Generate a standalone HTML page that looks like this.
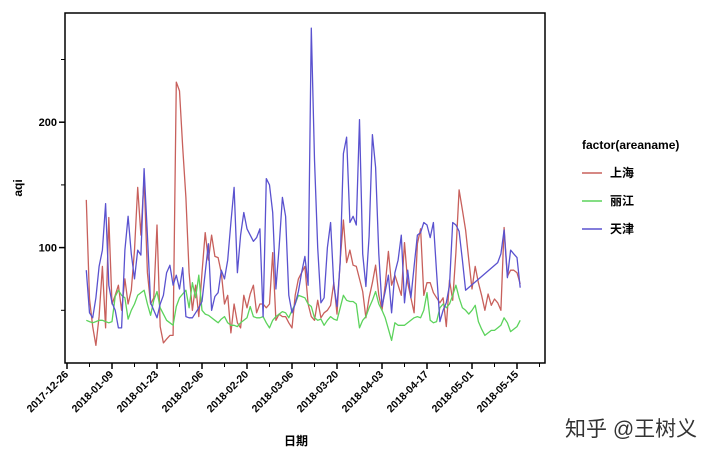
<!DOCTYPE html>
<html><head><meta charset="utf-8"><style>
body{margin:0;background:#fff;width:720px;height:459px;overflow:hidden;font-family:"Liberation Sans","Noto Sans CJK SC",sans-serif}
svg text{font-family:"Liberation Sans","Noto Sans CJK SC",sans-serif}
</style></head><body>
<svg id="chart" width="720" height="459" viewBox="0 0 720 459" xmlns="http://www.w3.org/2000/svg">
<rect x="65" y="13" width="480" height="350" fill="#fff" stroke="#000" stroke-width="1.5"/>
<g id="marks"></g>
<g id="axes"></g>
<text transform="translate(22,188) rotate(-90)" text-anchor="middle" font-size="12" font-weight="bold">aqi</text>
<text x="296" y="445" text-anchor="middle" font-size="12" font-weight="bold">日期</text>
<g>
<text x="582" y="149" font-size="12" font-weight="bold">factor(areaname)</text>
<line x1="582" x2="602" y1="173" y2="173" stroke="#c8605c" stroke-width="1.5"/>
<text x="610" y="177" font-size="12" font-weight="bold">上海</text>
<line x1="582" x2="602" y1="201" y2="201" stroke="#5cd35c" stroke-width="1.5"/>
<text x="610" y="205" font-size="12" font-weight="bold">丽江</text>
<line x1="582" x2="602" y1="229" y2="229" stroke="#5a52cf" stroke-width="1.5"/>
<text x="610" y="233" font-size="12" font-weight="bold">天津</text>
</g>
<text x="565" y="436" font-size="21" fill="#333">知乎 @王树义</text>
</svg>
<script>
const startDate = "2018-01-01";
const seriesNames = ["上海","丽江","天津"];
const shanghai = [138,59,37,22,45,85,36,124,55,62,70,50,75,55,66,98,148,110,156,80,55,60,118,37,24,27,30,30,232,225,180,140,80,50,
70,45,80,112,90,110,93,92,80,55,62,32,55,40,36,62,52,63,70,48,55,55,52,55,96,42,47,45,45,40,36,62,75,80,85,55,45,
42,58,44,48,50,54,72,47,90,122,88,98,86,85,75,65,44,60,72,86,62,50,70,97,70,78,70,62,104,72,60,48,103,115,62,72,72,64,60,56,60,37,74,58,96,146,130,114,90,67,85,72,62,50,63,54,59,56,50,116,77,82,82,80,71];
const lijiang = [42,41,40,41,42,42,41,40,41,61,66,62,60,43,50,55,62,64,66,55,46,58,65,52,47,42,40,38,53,60,63,66,52,72,60,
78,50,47,46,44,42,40,43,45,40,38,38,37,40,42,44,53,45,44,44,45,40,36,42,45,47,49,48,44,50,55,62,61,60,55,53,
44,42,43,38,42,45,43,42,52,62,58,57,57,55,36,42,45,52,58,65,55,50,44,35,26,40,38,38,38,40,42,44,45,44,50,64,42,40,41,52,55,52,55,62,70,60,52,50,47,50,54,41,35,30,32,34,34,36,38,44,40,33,35,37,42];
const tianjin = [82,48,44,60,85,98,135,70,56,50,36,36,98,125,95,75,98,94,163,110,56,50,44,55,62,80,86,70,78,67,84,45,
44,44,48,52,57,80,103,50,61,64,82,75,90,120,148,80,110,128,115,110,105,108,115,45,155,150,128,67,100,140,125,62,48,55,65,80,93,70,275,
170,100,56,60,100,120,70,53,88,175,188,120,125,118,202,95,69,109,190,164,95,53,65,78,48,80,90,110,56,82,60,85,110,112,120,118,
108,120,80,41,50,56,70,120,118,113,90,66,null,null,null,null,null,null,null,null,null,88,95,114,76,98,95,92,68];
const xTickLabels = ["2017-12-26","2018-01-09","2018-01-23","2018-02-06","2018-02-20","2018-03-06","2018-03-20","2018-04-03","2018-04-17","2018-05-01","2018-05-15"];
const yTickValues = [50,100,150,200,250];
const yTickLabels = ["","100","","200",""];

const NS="http://www.w3.org/2000/svg";
const DAY=86400000, origin=Date.UTC(2017,11,26);
function xScale(ms){return 67+(ms-origin)/DAY*(45/14);}
function yScale(v){return 373-v*1.254;}
function dayMs(i){const p=startDate.split("-");return Date.UTC(+p[0],+p[1]-1,+p[2])+i*DAY;}
function mk(tag,attrs,parent){const e=document.createElementNS(NS,tag);for(const k in attrs)e.setAttribute(k,attrs[k]);parent.appendChild(e);return e;}
const marks=document.getElementById("marks"), axes=document.getElementById("axes");
const data=[shanghai,lijiang,tianjin], colors=["#c8605c","#5cd35c","#5a52cf"], names=["line-shanghai","line-lijiang","line-tianjin"];
data.forEach((arr,s)=>{
  let d="";
  arr.forEach((v,i)=>{ if(v==null) return; d+=(d?"L":"M")+xScale(dayMs(i)).toFixed(1)+","+yScale(v).toFixed(1);});
  const p=mk("path",{d:d,fill:"none",stroke:colors[s],"stroke-width":1.3,"stroke-linejoin":"round"},marks);
  
  
});
xTickLabels.forEach((lab,k)=>{
  const p=lab.split("-");const ms=Date.UTC(+p[0],+p[1]-1,+p[2]);const x=xScale(ms);
  const t=mk("line",{x1:x,x2:x,y1:363,y2:369,stroke:"#000","stroke-width":1.5},axes);
  
  
  const xm=xScale(ms+7*DAY);
  if(xm<545){const m=mk("line",{x1:xm,x2:xm,y1:363,y2:367,stroke:"#000","stroke-width":1},axes);
  
  }
  const tx=mk("text",{transform:`translate(${x+2},${375}) rotate(-45)`,"text-anchor":"end","font-size":"10.5","font-weight":"bold"},axes);
  tx.textContent=lab;
  
  
});
yTickValues.forEach((v,k)=>{
  const y=yScale(v);const major=yTickLabels[k]!=="";
  const t=mk("line",{x1:major?59:61,x2:65,y1:y,y2:y,stroke:"#000","stroke-width":major?1.5:1},axes);
  
  
  if(major){const tx=mk("text",{x:57,y:y+4,"text-anchor":"end","font-size":"11","font-weight":"bold"},axes);
  tx.textContent=yTickLabels[k];
  
  }
});
</script>
</body></html>
